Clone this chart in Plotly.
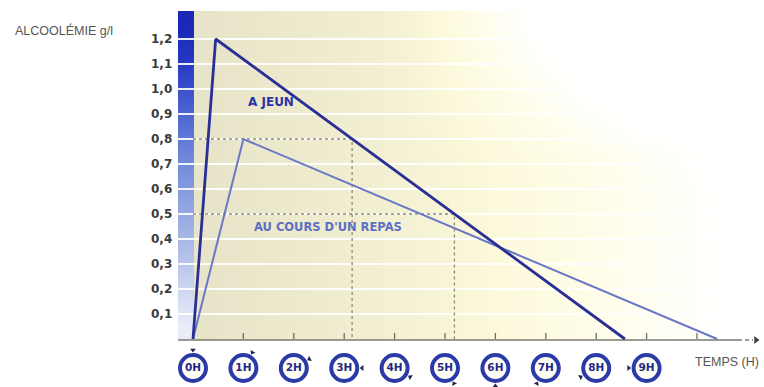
import numpy as np
import plotly.graph_objects as go

# --- chart data -------------------------------------------------------------
y_tick_vals = [0.1, 0.2, 0.3, 0.4, 0.5, 0.6, 0.7, 0.8, 0.9, 1.0, 1.1, 1.2]
y_tick_text = ["0,1", "0,2", "0,3", "0,4", "0,5", "0,6", "0,7", "0,8", "0,9", "1,0", "1,1", "1,2"]
hours = [0, 1, 2, 3, 4, 5, 6, 7, 8, 9]
hour_labels = ["0H", "1H", "2H", "3H", "4H", "5H", "6H", "7H", "8H", "9H"]
axis_ticks = [1, 2, 3, 4, 5, 6, 7, 8, 9, 10]

jeun_t = [0, 0.45, 8.57]          # heures
jeun_g = [0, 1.2, 0]              # g/l
repas_t = [0, 1.0, 10.4]
repas_g = [0, 0.8, 0]
guide_levels = [0.8, 0.5]         # niveaux repérés en pointillés

# --- canvas / scale ---------------------------------------------------------
W, H = 764, 387
X0_PX, PX_H = 193, 50.4           # pixel of t=0, pixels per hour
Y0_PX, PX_U = 339, 250            # pixel of 0 g/l, pixels per g/l
x_range = [-X0_PX / PX_H, (W - X0_PX) / PX_H]
y_range = [(Y0_PX - H) / PX_U, Y0_PX / PX_U]

def px_x(p):
    return (p - X0_PX) / PX_H

def px_y(p):
    return (Y0_PX - p) / PX_U

top = px_y(11)
base = px_y(340)
bar_l, bar_r = px_x(178), px_x(194)

fig = go.Figure()

# background wash of the plotting area (cell edges given explicitly)
ex = np.linspace(bar_r, x_range[1], 25)
ey = np.linspace(base, top, 11)
cx = (ex[:-1] + ex[1:]) / 2
cy = (ey[:-1] + ey[1:]) / 2
GX, GY = np.meshgrid(cx, cy)
shade = np.clip(GX / 10.5 + 0.25 * np.maximum(0, GX - 4) * np.maximum(0, GY - 0.7), 0, 1)
fig.add_trace(go.Heatmap(
    x=ex, y=ey, z=shade, zmin=0, zmax=1, zsmooth="best", showscale=False,
    hoverinfo="skip",
    colorscale=[[0, "#e6e3c8"], [0.3, "#f1edd0"], [0.55, "#fbf8da"],
                [0.75, "#fffde8"], [1, "#ffffff"]]))

# blue column along the value axis
bey = np.linspace(base, top, 13)
bcy = (bey[:-1] + bey[1:]) / 2
fig.add_trace(go.Heatmap(
    x=[bar_l, (bar_l + bar_r) / 2, bar_r], y=bey,
    z=[[v, v] for v in (bcy - base) / (top - base)], zmin=0, zmax=1,
    zsmooth="best", showscale=False, hoverinfo="skip",
    colorscale=[[0, "#f0f3fa"], [0.1, "#dbe2f3"], [0.3, "#a9b8e7"],
                [0.55, "#7189da"], [0.7, "#4a63d0"], [0.85, "#2438c2"], [1, "#1720b2"]]))

# white bands at each level
gl_x, gl_y = [], []
for v in y_tick_vals:
    gl_x += [bar_l, x_range[1], None]
    gl_y += [v, v, None]
fig.add_trace(go.Scatter(x=gl_x, y=gl_y, mode="lines", hoverinfo="skip",
                         line=dict(color="rgba(255,255,255,0.9)", width=2)))

# dotted guides at the reference levels on the fasting curve
down_t = jeun_t[1:][::-1]
down_g = jeun_g[1:][::-1]
for lvl in guide_levels:
    tc = float(np.interp(lvl, down_g, down_t))
    fig.add_trace(go.Scatter(x=[0, tc, tc], y=[lvl, lvl, 0], mode="lines",
                             hoverinfo="skip",
                             line=dict(color="#8d8b72", width=1.3, dash="dot")))

# time axis with tick marks and arrow
fig.add_trace(go.Scatter(x=[bar_l, px_x(738)], y=[-0.004, -0.004], mode="lines",
                         hoverinfo="skip", line=dict(color="#7a7a72", width=1.6)))
fig.add_trace(go.Scatter(x=[px_x(738), px_x(753)], y=[-0.004, -0.004], mode="lines",
                         hoverinfo="skip", line=dict(color="#7a7a72", width=1.4, dash="4px,3px")))
fig.add_trace(go.Scatter(x=[px_x(756)], y=[-0.004], mode="markers", hoverinfo="skip",
                         marker=dict(symbol="triangle-right", size=7, color="#444")))
tk_x, tk_y = [], []
for t in axis_ticks:
    tk_x += [t, t, None]
    tk_y += [0, 6 / PX_U, None]
fig.add_trace(go.Scatter(x=tk_x, y=tk_y, mode="lines", hoverinfo="skip",
                         line=dict(color="#6e6e66", width=1.3)))

# the two curves
fig.add_trace(go.Scatter(x=repas_t, y=repas_g, mode="lines", hoverinfo="skip",
                         line=dict(color="#6a77c6", width=2)))
fig.add_trace(go.Scatter(x=jeun_t, y=jeun_g, mode="lines", hoverinfo="skip",
                         line=dict(color="#2a2f96", width=2.8)))

# hour badges under the axis
badge_y = px_y(368)
fig.add_trace(go.Scatter(
    x=hours, y=[badge_y] * len(hours), mode="markers+text", text=hour_labels,
    textposition="middle center", hoverinfo="skip", cliponaxis=False,
    textfont=dict(family="DejaVu Sans", size=10.5, color="#1f2a85", weight="bold"),
    marker=dict(symbol="circle", size=26, color="#fdfdf6",
                line=dict(color="#2c3aa8", width=4))))

# little clock-hand pointers around each badge
r = 18
ang = [np.deg2rad(90 - 30 * h) for h in hours]
fig.add_trace(go.Scatter(
    x=[h + r * np.cos(a) / PX_H for h, a in zip(hours, ang)],
    y=[badge_y + r * np.sin(a) / PX_U for a in ang],
    mode="markers", hoverinfo="skip", cliponaxis=False,
    marker=dict(symbol="triangle-down", size=5, color="#22264a",
                angle=[30 * h for h in hours])))

annotations = []
for v, txt in zip(y_tick_vals, y_tick_text):
    annotations.append(dict(x=px_x(174), y=v, text=txt, xanchor="right", yanchor="middle",
                            showarrow=False,
                            font=dict(family="DejaVu Sans", size=12, color="#3b3b3b",
                                      weight="bold")))
annotations += [
    dict(x=px_x(13), y=px_y(30), text="ALCOOLÉMIE g/l", xanchor="left", yanchor="middle",
         showarrow=False, font=dict(family="Liberation Sans", size=12.5, color="#555")),
    dict(x=px_x(693), y=px_y(362), text="TEMPS (H)", xanchor="left", yanchor="middle",
         showarrow=False, font=dict(family="Liberation Sans", size=12.5, color="#555")),
    dict(x=px_x(271), y=px_y(102), text="A JEUN", xanchor="center", yanchor="middle",
         showarrow=False, font=dict(family="DejaVu Sans", size=12, color="#2a34a6",
                                    weight="bold")),
    dict(x=px_x(328), y=px_y(227), text="AU COURS D'UN REPAS", xanchor="center",
         yanchor="middle", showarrow=False,
         font=dict(family="DejaVu Sans", size=11.5, color="#5d70c2", weight="bold")),
]

fig.update_layout(
    width=W, height=H, margin=dict(l=0, r=0, t=0, b=0),
    paper_bgcolor="white", plot_bgcolor="white", showlegend=False,
    xaxis=dict(range=x_range, visible=False, fixedrange=True),
    yaxis=dict(range=y_range, visible=False, fixedrange=True),
    annotations=annotations,
)

fig.write_html("out.html")
